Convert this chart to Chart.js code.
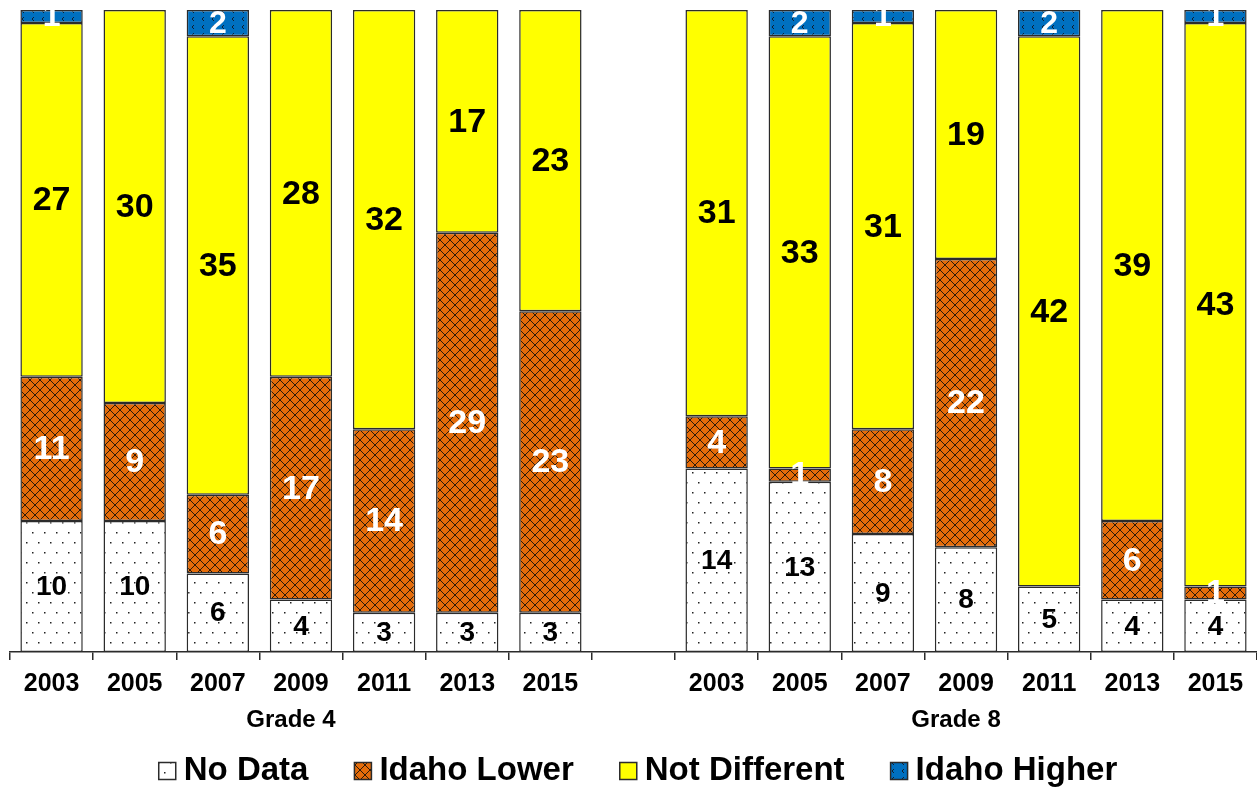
<!DOCTYPE html>
<html>
<head>
<meta charset="utf-8">
<script src="https://cdn.jsdelivr.net/npm/chart.js@4.4.1/dist/chart.umd.min.js"></script>
<style>
  html, body { margin: 0; padding: 0; background: #fff; }
  .chart { width: 1257px; height: 790px; }
</style>
</head>
<body>
<div class="chart"><canvas id="chart"></canvas></div>
<script>
const years = ['2003', '2005', '2007', '2009', '2011', '2013', '2015', '', '2003', '2005', '2007', '2009', '2011', '2013', '2015'];
const groupLabels = ['Grade 4', 'Grade 8'];
const groupRanges = [[0, 6], [8, 14]];
const seriesNames = ['No Data', 'Idaho Lower', 'Not Different', 'Idaho Higher'];

const noData = [10, 10, 6, 4, 3, 3, 3, null, 14, 13, 9, 8, 5, 4, 4];
const idahoLower = [11, 9, 6, 17, 14, 29, 23, null, 4, 1, 8, 22, null, 6, 1];
const notDifferent = [27, 30, 35, 28, 32, 17, 23, null, 31, 33, 31, 19, 42, 39, 43];
const idahoHigher = [1, null, 2, null, null, null, null, null, null, 2, 1, null, 2, null, 1];

const FONT = '"Liberation Sans", Arial, sans-serif';
const EDGE = '#2b2b2b';

function makePattern(w, h, draw) {
  const c = document.createElement('canvas');
  c.width = w;
  c.height = h;
  draw(c.getContext('2d'));
  return c.getContext('2d').createPattern(c, 'repeat');
}

const dots = makePattern(12, 20, ctx => {
  ctx.fillStyle = '#fff';
  ctx.fillRect(0, 0, 12, 20);
  ctx.fillStyle = '#222';
  ctx.fillRect(2, 2, 1.5, 1.5);
  ctx.fillRect(8, 12, 1.5, 1.5);
});

const crosshatch = makePattern(10, 10, ctx => {
  ctx.fillStyle = '#e46c0a';
  ctx.fillRect(0, 0, 10, 10);
  ctx.strokeStyle = '#2a1a0a';
  ctx.lineWidth = 1;
  ctx.beginPath();
  ctx.moveTo(0, 0); ctx.lineTo(10, 10);
  ctx.moveTo(10, 0); ctx.lineTo(0, 10);
  ctx.stroke();
});

const chevrons = makePattern(10, 8, ctx => {
  ctx.fillStyle = '#0070c0';
  ctx.fillRect(0, 0, 10, 8);
  ctx.strokeStyle = '#102030';
  ctx.lineWidth = 1;
  ctx.beginPath();
  ctx.moveTo(4, 1); ctx.lineTo(2, 3); ctx.lineTo(4, 5);
  ctx.stroke();
});

const fills = [dots, crosshatch, '#ffff00', chevrons];
const labelColors = ['#000', '#fff', '#000', '#fff'];
const labelSizes = [28, 34, 34, 32];

// value labels centred in each segment
const segmentLabels = {
  id: 'segmentLabels',
  afterDatasetsDraw(chart) {
    const { ctx } = chart;
    ctx.save();
    ctx.textAlign = 'center';
    ctx.textBaseline = 'middle';
    chart.data.datasets.forEach((ds, i) => {
      const meta = chart.getDatasetMeta(i);
      ctx.font = `bold ${labelSizes[i]}px ${FONT}`;
      ctx.fillStyle = labelColors[i];
      meta.data.forEach((bar, j) => {
        const v = ds.data[j];
        if (v == null) return;
        ctx.fillText(String(v), bar.x, (bar.y + bar.base) / 2 + 1);
      });
    });
    ctx.restore();
  },
};

// group captions under the year ticks + legend row
const captions = {
  id: 'captions',
  afterDraw(chart) {
    const { ctx } = chart;
    const x = chart.scales.x;
    ctx.save();
    ctx.fillStyle = '#000';
    ctx.textBaseline = 'middle';
    ctx.textAlign = 'center';
    ctx.font = `bold 24px ${FONT}`;
    groupLabels.forEach((g, i) => {
      const [a, b] = groupRanges[i];
      const cx = (x.getPixelForValue(a) + x.getPixelForValue(b)) / 2 - 10;
      ctx.fillText(g, cx, 720);
    });

    ctx.font = `bold 33px ${FONT}`;
    ctx.textAlign = 'left';
    const box = 17, gap = 8, spacing = 46;
    const widths = seriesNames.map(n => box + gap + ctx.measureText(n).width);
    const total = widths.reduce((s, w) => s + w, 0) + spacing * (seriesNames.length - 1);
    let lx = 638 - total / 2;
    const ly = 771;
    seriesNames.forEach((n, i) => {
      ctx.fillStyle = fills[i];
      ctx.fillRect(lx, ly - box / 2, box, box);
      ctx.strokeStyle = EDGE;
      ctx.lineWidth = 1.5;
      ctx.strokeRect(lx, ly - box / 2, box, box);
      ctx.fillStyle = '#000';
      ctx.fillText(n, lx + box + gap, ly);
      lx += widths[i] + spacing;
    });
    ctx.restore();
  },
};

const series = [noData, idahoLower, notDifferent, idahoHigher];

new Chart(document.getElementById('chart'), {
  type: 'bar',
  data: {
    labels: years,
    datasets: series.map((data, i) => ({
      label: seriesNames[i],
      data,
      backgroundColor: fills[i],
      borderColor: EDGE,
      borderWidth: 1.5,
      borderSkipped: false,
      categoryPercentage: 1,
      barPercentage: 0.75,
    })),
  },
  options: {
    responsive: true,
    maintainAspectRatio: false,
    animation: false,
    layout: {
      padding: { top: 10, left: 10, right: 0, bottom: 78 },
    },
    plugins: {
      legend: { display: false },
      tooltip: { enabled: false },
    },
    scales: {
      x: {
        stacked: true,
        afterFit: scale => {
          scale.height = 60;
        },
        grid: {
          display: true,
          offset: true,
          drawOnChartArea: false,
          drawTicks: true,
          tickLength: 8,
          color: EDGE,
          lineWidth: 1.5,
        },
        border: {
          display: true,
          color: EDGE,
          width: 1.5,
        },
        ticks: {
          color: '#000',
          padding: 9,
          autoSkip: false,
          maxRotation: 0,
          font: { family: FONT, size: 25, weight: 'bold' },
        },
      },
      y: {
        stacked: true,
        display: false,
        min: 0,
        max: 49,
      },
    },
  },
  plugins: [segmentLabels, captions],
});
</script>
</body>
</html>
